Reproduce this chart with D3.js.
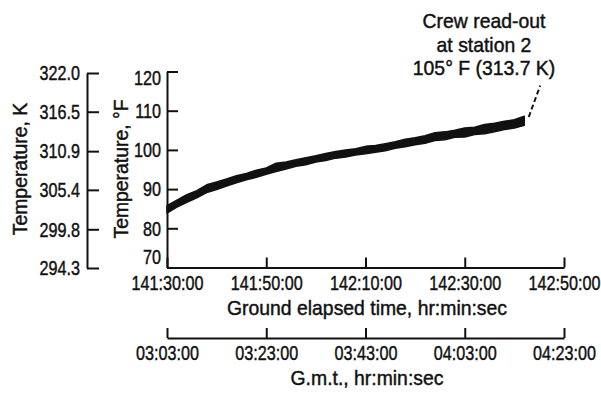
<!DOCTYPE html>
<html><head><meta charset="utf-8">
<script src="https://cdn.jsdelivr.net/npm/d3@7"></script>
<style>
html,body{margin:0;padding:0;background:#fff;}
svg text{font-family:"Liberation Sans",Arial,sans-serif;fill:#111;stroke:#111;stroke-width:0.45px;font-size:21px;}
</style></head><body>
<svg id="c" width="601" height="393"></svg>
<script>
// ---- data (minutes after 141:30:00 ground elapsed time; temperature in °F) ----
const minutes     = [0,2,4,6,8,10,12,14,16,18,20,22,24,26,28,30,32,34,36,38,40,42,44,46,48,50,52,54,56,58,60,62,64,66,68,70,72];
const tempCenterF = [84.8,86.3,87.5,88.7,90.0,90.9,91.7,92.5,93.2,93.9,94.6,95.4,96.0,96.6,97.1,97.7,98.2,98.7,99.1,99.5,99.9,100.3,100.7,101.2,101.7,102.2,102.7,103.3,103.7,104.1,104.5,104.9,105.4,105.8,106.3,106.8,107.4];
const tempUpperF  = [85.8,87.2,88.6,89.6,91.1,91.8,92.6,93.4,94.0,94.8,95.4,96.6,96.9,97.5,98.0,98.5,99.1,99.6,100.0,100.3,100.9,101.1,101.6,102.1,102.7,103.1,103.6,104.4,104.6,105.0,105.6,105.8,106.5,106.8,107.3,107.7,108.6];
const tempLowerF  = [83.9,85.4,86.6,87.8,89.1,89.9,90.8,91.6,92.4,93.0,93.8,94.5,95.1,95.8,96.2,96.9,97.3,97.9,98.2,98.7,99.0,99.4,99.8,100.4,100.8,101.3,101.7,102.4,102.6,103.2,103.3,103.9,104.1,104.6,105.2,105.6,106.3];
const readoutMinutes = [72.9, 75.2];
const readoutTempF   = [108.4, 116.4];

const fTicks = [70,80,90,100,110,120];
const kTicks = [294.3,299.8,305.4,310.9,316.5,322.0];
const kTickLabels = ["294.3","299.8","305.4","310.9","316.5","322.0"];
const timeTicks = [0,20,40,60,80];
const getTickLabels = ["141:30:00","141:50:00","142:10:00","142:30:00","142:50:00"];
const gmtTickLabels = ["03:03:00","03:23:00","03:43:00","04:03:00","04:23:00"];
const annotationLines = ["Crew read-out","at station 2","105° F (313.7 K)"];
const xTitle = "Ground elapsed time, hr:min:sec";
const gmtTitle = "G.m.t., hr:min:sec";
const fTitle = "Temperature, °F";
const kTitle = "Temperature, K";

// ---- drawing ----
const svg = d3.select("#c");
const ink = "#111";
const x  = d3.scaleLinear().domain([0,80]).range([167,564]);
const yF = d3.scaleLinear().domain([70,120]).range([267.5,71.5]);
const yK = d3.scaleLinear().domain([294.3,322.0]).range([268,73]);

function styleAxis(g){
  g.attr("font-family",null).attr("font-size",null);
  g.selectAll("path,line").attr("stroke",ink).attr("stroke-width",2);
  g.selectAll("text").attr("fill",ink).classed("num",true);
}

// Kelvin axis
svg.append("g").attr("transform","translate(87,0)")
  .call(d3.axisLeft(yK).tickValues(kTicks).tickFormat((d,i)=>kTickLabels[i])
        .tickSizeInner(-12).tickSizeOuter(0).tickPadding(7))
  .call(styleAxis);

// Fahrenheit axis
const fAxis = svg.append("g").attr("transform","translate(167,0)")
  .call(d3.axisLeft(yF).tickValues(fTicks).tickSizeInner(-11).tickSizeOuter(0).tickPadding(6))
  .call(styleAxis);
fAxis.selectAll(".tick text").filter(d=>d===fTicks[0]).attr("dy","-0.2em");
fAxis.selectAll(".tick text").filter(d=>d===fTicks[fTicks.length-1]).attr("dy","0.6em");

// Ground elapsed time axis
svg.append("g").attr("transform","translate(0,267.5)")
  .call(d3.axisBottom(x).tickValues(timeTicks).tickFormat((d,i)=>getTickLabels[i])
        .tickSizeInner(-10).tickSizeOuter(0).tickPadding(8))
  .call(styleAxis);

// GMT axis
svg.append("g").attr("transform","translate(0,338)")
  .call(d3.axisBottom(x).tickValues(timeTicks).tickFormat((d,i)=>gmtTickLabels[i])
        .tickSizeInner(-10).tickSizeOuter(0).tickPadding(7))
  .call(styleAxis);

// titles
svg.append("text").attr("x",367).attr("y",315).attr("text-anchor","middle").text(xTitle);
svg.append("text").attr("x",367).attr("y",385).attr("text-anchor","middle").text(gmtTitle);
svg.append("text").attr("transform","translate(27,169) rotate(-90)").attr("text-anchor","middle").text(kTitle);
svg.append("text").attr("transform","translate(128,169) rotate(-90)").attr("text-anchor","middle").text(fTitle);

// data band
const band = minutes.map((m,i)=>({m, c:tempCenterF[i], u:tempUpperF[i], l:tempLowerF[i]}));
svg.append("path").datum(band)
  .attr("d", d3.area().x(d=>x(d.m)).y0(d=>yF(d.l)).y1(d=>yF(d.u)))
  .attr("fill",ink).attr("stroke",ink).attr("stroke-width",1.5).attr("stroke-linejoin","round");
svg.append("path").datum(band)
  .attr("d", d3.line().x(d=>x(d.m)).y(d=>yF(d.c)))
  .attr("fill","none").attr("stroke",ink).attr("stroke-width",3);

// dashed readout leader
svg.append("path").datum(readoutMinutes.map((m,i)=>({m, f:readoutTempF[i]})))
  .attr("d", d3.line().x(d=>x(d.m)).y(d=>yF(d.f)))
  .attr("fill","none").attr("stroke",ink).attr("stroke-width",2).attr("stroke-dasharray","5,3");

// annotation
svg.append("g").selectAll("text").data(annotationLines).join("text")
  .attr("x",484).attr("y",(d,i)=>28+i*23.5).attr("text-anchor","middle").text(d=>d);

// condense text to match reference proportions (numbers are narrower than words)
function natural(str){ const p = svg.append("text").text(str); const w = p.node().getComputedTextLength(); p.remove(); return w; }
const numFactor  = 72 / natural(getTickLabels[0]);
const wordFactor = 280 / natural(xTitle);
svg.selectAll("text").each(function(){
  const w = this.getComputedTextLength();
  const f = this.classList.contains("num") ? numFactor : wordFactor;
  this.setAttribute("textLength", (w*f).toFixed(1));
  this.setAttribute("lengthAdjust","spacingAndGlyphs");
});
</script>
</body></html>
